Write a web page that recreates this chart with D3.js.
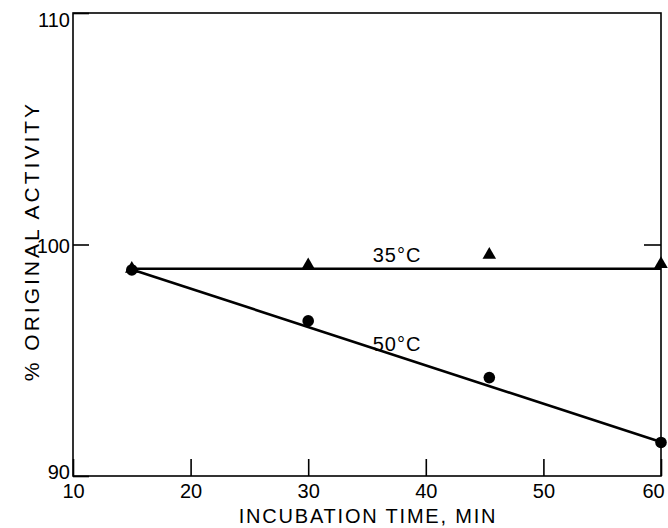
<!doctype html>
<html>
<head>
<script src="https://d3js.org/d3.v7.min.js"></script>
<style>
body { margin: 0; background: #fff; }
text { font-family: "Liberation Sans", Arial, sans-serif; fill: #000; }
</style>
</head>
<body>
<script type="text/javascript">
var width = 668;
var height = 528;

// measured points
var times = [15, 30, 45.4, 60];
var act35 = [98.95, 99.1, 99.55, 99.15];
var act50 = [98.9, 96.7, 94.25, 91.45];

// fitted lines
var fitTimes = [15, 60];
var fit35 = [98.95, 98.95];
var fit50 = [98.92, 91.47];

var xTicks = [10, 20, 30, 40, 50, 60];
var yTicks = [90, 100, 110];

var margin = {top: 13, right: 7, bottom: 52, left: 73};

var svg = d3.select("body").append("svg")
    .attr("width", width)
    .attr("height", height);

var x = d3.scaleLinear().domain([10, 60]).range([margin.left, width - margin.right]);
var y = d3.scaleLinear().domain([90, 110]).range([height - margin.bottom, margin.top]);

//frame
svg.append("rect")
    .attr("x", x(10)).attr("y", y(110))
    .attr("width", x(60) - x(10)).attr("height", y(90) - y(110))
    .attr("fill", "none").attr("stroke", "#000").attr("stroke-width", 1.6);

var xAxis = svg.append("g")
    .attr("transform", "translate(0," + y(90) + ")")
    .call(d3.axisBottom(x).tickValues(xTicks).tickSize(-17).tickPadding(8));
xAxis.select(".domain").remove();
xAxis.selectAll("line").attr("stroke", "#000").attr("stroke-width", 1.6);
xAxis.selectAll("text").attr("font-size", 20).attr("font-family", null)
    .attr("dx", function (d) { return d == 60 ? -8 : 0; });

var yAxis = svg.append("g")
    .attr("transform", "translate(" + x(10) + ",0)")
    .call(d3.axisLeft(y).tickValues(yTicks).tickSize(-16).tickPadding(3));
yAxis.select(".domain").remove();
yAxis.selectAll("line").attr("stroke", "#000").attr("stroke-width", 1.6);
yAxis.selectAll("text").attr("font-size", 20).attr("font-family", null)
    .attr("dy", function (d) { return d == 110 ? "0.65em" : d == 90 ? "0.1em" : "0.4em"; });

// right side tick at 100
var rAxis = svg.append("g")
    .attr("transform", "translate(" + x(60) + ",0)")
    .call(d3.axisRight(y).tickValues([100]).tickSize(-17).tickFormat(""));
rAxis.select(".domain").remove();
rAxis.selectAll("line").attr("stroke", "#000").attr("stroke-width", 1.6);

//lines
var line = d3.line()
    .x(function (d) { return x(d[0]); })
    .y(function (d) { return y(d[1]); });

svg.selectAll("path.fit")
    .data([d3.zip(fitTimes, fit35), d3.zip(fitTimes, fit50)])
    .enter()
    .append("path")
    .attr("class", "fit")
    .attr("d", line)
    .attr("fill", "none")
    .attr("stroke", "#000")
    .attr("stroke-width", 2.6);

// 50 C circles
svg.selectAll("circle.p50")
    .data(d3.zip(times, act50))
    .enter()
    .append("circle")
    .attr("class", "p50")
    .attr("cx", function (d) { return x(d[0]); })
    .attr("cy", function (d) { return y(d[1]); })
    .attr("r", 5.8)
    .attr("fill", "#000");

// 35 C triangles
var tri = d3.symbol().type(d3.symbolTriangle).size(80);
svg.selectAll("path.p35")
    .data(d3.zip(times, act35))
    .enter()
    .append("path")
    .attr("class", "p35")
    .attr("d", tri)
    .attr("transform", function (d) { return "translate(" + x(d[0]) + "," + y(d[1]) + ")"; })
    .attr("fill", "#000");

//labels
svg.append("text").attr("x", 397).attr("y", 262).attr("text-anchor", "middle")
    .attr("font-size", 20).attr("letter-spacing", 1).text("35°C");
svg.append("text").attr("x", 397).attr("y", 351).attr("text-anchor", "middle")
    .attr("font-size", 20).attr("letter-spacing", 1).text("50°C");

svg.append("text")
    .attr("x", 368)
    .attr("y", 523)
    .attr("text-anchor", "middle")
    .attr("font-size", 20)
    .attr("letter-spacing", 1.8)
    .text("INCUBATION TIME, MIN");

svg.append("text")
    .attr("transform", "translate(39,241) rotate(-90)")
    .attr("text-anchor", "middle")
    .attr("font-size", 21)
    .attr("letter-spacing", 3)
    .text("% ORIGINAL ACTIVITY");
</script>
</body>
</html>
